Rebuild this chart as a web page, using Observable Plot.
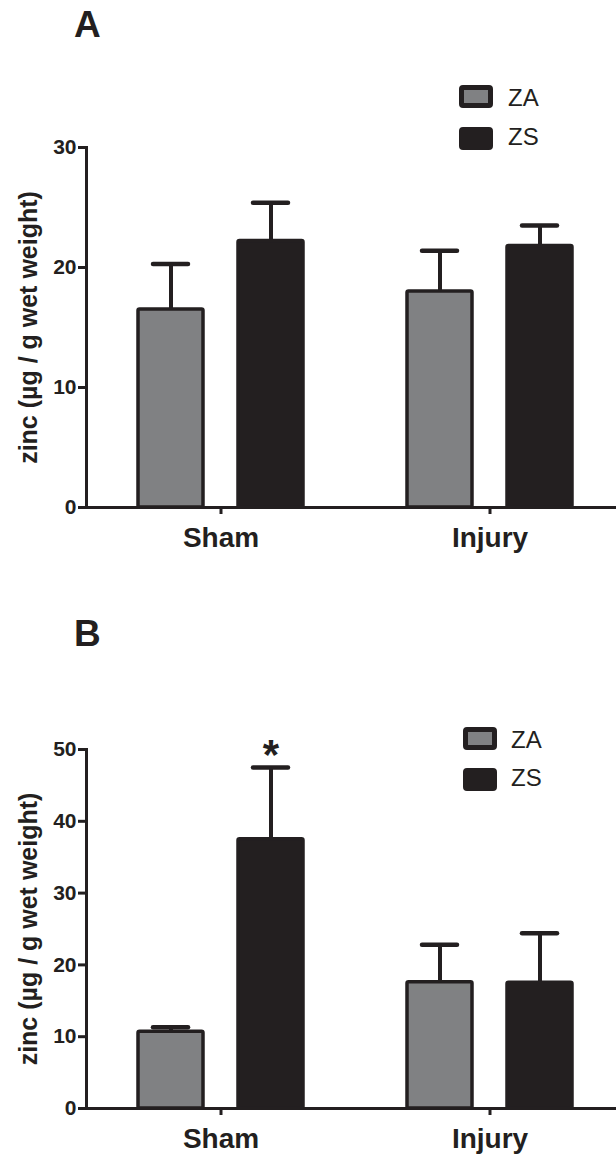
<!DOCTYPE html>
<html><head><meta charset="utf-8">
<script src="https://cdn.jsdelivr.net/npm/d3@7"></script>
<script src="https://cdn.jsdelivr.net/npm/@observablehq/plot@0.6"></script>
<style>
body{margin:0;background:#fff;overflow:hidden;font-family:"Liberation Sans",Arial,sans-serif;color:#231f20}
#wrap{position:relative;width:616px;height:1161px;overflow:hidden;background:#fff}
.panel{position:absolute;left:0;width:616px}
.letter{position:absolute;font-weight:bold;font-size:37px;line-height:1}
.sw{position:absolute;width:34px;height:23px;box-sizing:border-box;border:5px solid #231f20;border-radius:4px}
.lt{position:absolute;font-size:24px;line-height:1}
</style></head><body><div id="wrap"></div>
<script>
// ---- data ----
const groups = ["Sham", "Injury"];
const series = ["ZA", "ZS"];
const yLabel = "zinc (\u00b5g / g wet weight)";
// Panel A
const aTicks = [0, 10, 20, 30];
const aZAmean = [16.5, 18.0];
const aZAupper = [20.3, 21.4];
const aZSmean = [22.2, 21.8];
const aZSupper = [25.4, 23.5];
// Panel B
const bTicks = [0, 10, 20, 30, 40, 50];
const bZAmean = [10.7, 17.6];
const bZAupper = [11.3, 22.8];
const bZSmean = [37.5, 17.5];
const bZSupper = [47.5, 24.4];
const bStarGroup = ["Sham"];
const bStarSeries = ["ZS"];
const bStarText = ["*"];

const dark = "#231f20", gray = "#808183";

function rowsOf(zaM, zaU, zsM, zsU) {
  const rows = [];
  groups.forEach((g, i) => {
    rows.push({group: g, series: "ZA", mean: zaM[i], upper: zaU[i]});
    rows.push({group: g, series: "ZS", mean: zsM[i], upper: zsU[i]});
  });
  return rows;
}

function panel({rows, ticks, height, marginTop, marginBottom, stars}) {
  const yMax = ticks[ticks.length - 1];
  const marks = [
    Plot.ruleX(rows, {fx: "group", x: "series", y1: "mean", y2: "upper", stroke: dark, strokeWidth: 4}),
    Plot.tickY(rows, {fx: "group", x: "series", y: "upper", stroke: dark, strokeWidth: 4.5, strokeLinecap: "round", insetLeft: 15, insetRight: 15}),
    Plot.barY(rows, {fx: "group", x: "series", y: "mean", fill: "series", stroke: dark, strokeWidth: 3.5, rx: 1.5}),
    Plot.ruleY([0], {stroke: dark, strokeWidth: 3}),
    Plot.frame({anchor: "left", facetAnchor: "left", stroke: dark, strokeWidth: 3}),
    Plot.axisY({ticks, tickSize: 8, tickPadding: 2, strokeWidth: 3, fontSize: 21, fontWeight: "bold", label: null, tickFormat: d3.format("d")}),
    Plot.axisFx({anchor: "bottom", tickSize: 7, tickPadding: 13, strokeWidth: 3, fontSize: 28, fontWeight: "bold", label: null}),
    Plot.text([yLabel], {frameAnchor: "left", facetAnchor: "left", textAnchor: "middle", rotate: -90, dx: -58, fontSize: 25, fontWeight: "bold", fill: dark})
  ];
  if (stars) marks.push(Plot.text(stars, {fx: "group", x: "series", y: "upper", text: "text", lineAnchor: "bottom", dy: 2, fontSize: 42, fontWeight: "bold", fill: dark}));
  return Plot.plot({
    width: 616, height, marginTop, marginBottom, marginLeft: 85, marginRight: -8,
    style: {fontFamily: "'Liberation Sans', Arial, sans-serif", color: dark, background: "transparent", overflow: "hidden"},
    fx: {domain: groups, padding: 0},
    x: {domain: series, paddingInner: 0.35, paddingOuter: 0.52, axis: null},
    y: {domain: [0, yMax]},
    color: {domain: series, range: [gray, dark]},
    marks
  });
}

const wrap = document.getElementById("wrap");

function place(el, top) { el.classList.add("panel"); el.style.top = top + "px"; wrap.appendChild(el); }

const pA = panel({rows: rowsOf(aZAmean, aZAupper, aZSmean, aZSupper), ticks: aTicks, height: 580, marginTop: 147, marginBottom: 73});
place(pA, 0);

const bStars = bStarGroup.map((g, i) => {
  const r = rowsOf(bZAmean, bZAupper, bZSmean, bZSupper).find(d => d.group === g && d.series === bStarSeries[i]);
  return {group: g, series: bStarSeries[i], upper: r.upper, text: bStarText[i]};
});
const pB = panel({rows: rowsOf(bZAmean, bZAupper, bZSmean, bZSupper), ticks: bTicks, height: 581, marginTop: 169, marginBottom: 53, stars: bStars});
place(pB, 580);

function addDiv(cls, css, text) {
  const d = document.createElement("div");
  d.className = cls;
  Object.assign(d.style, css);
  if (text) d.textContent = text;
  wrap.appendChild(d);
}
addDiv("letter", {left: "74px", top: "6px"}, "A");
addDiv("letter", {left: "74px", top: "615px"}, "B");
// legends
[[0, 459, 85, 127, 508, 86, 125], [1, 463, 727, 768, 511, 728, 766]].forEach(([k, sx, s1, s2, tx, t1, t2]) => {
  addDiv("sw", {left: sx + "px", top: s1 + "px", background: gray});
  addDiv("sw", {left: sx + "px", top: s2 + "px", background: dark});
  addDiv("lt", {left: tx + "px", top: t1 + "px"}, series[0]);
  addDiv("lt", {left: tx + "px", top: t2 + "px"}, series[1]);
});
</script></body></html>
